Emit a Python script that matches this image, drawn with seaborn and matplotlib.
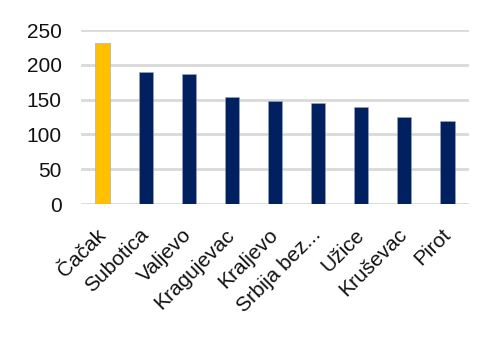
import matplotlib
matplotlib.use("Agg")
import matplotlib.pyplot as plt
import seaborn as sns
import pandas as pd

cities = ["Čačak", "Subotica", "Valjevo", "Kragujevac", "Kraljevo",
          "Srbija bez...", "Užice", "Kruševac", "Pirot"]
values = [231, 190, 187, 154, 148.5, 144.5, 139, 125.5, 120]
colors = ["#FFC000"] + ["#002060"] * 8
yticks = [0, 50, 100, 150, 200, 250]

sns.set_theme(style="white")
plt.rcParams['font.family'] = ['Liberation Sans', 'DejaVu Sans']

df = pd.DataFrame({"city": cities, "value": values})
fig = plt.figure(figsize=(5, 3.43), dpi=100)
ax = fig.add_axes([0.162, 0.405, 0.776, 0.5075])
sns.barplot(data=df, x="city", y="value", hue="city", palette=colors,
            legend=False, width=0.33, ax=ax, saturation=1,
            edgecolor="#9aa6c4", linewidth=0.4)
ax.set_ylim(0, 250)
ax.set_xlim(-0.5, 8.5)
ax.set_yticks(yticks)
ax.set_yticklabels([str(v) for v in yticks], fontsize=15, color="#111111")
ax.grid(axis="y", color="#d9d9d9", linewidth=2)
ax.set_axisbelow(True)
for s in ax.spines.values():
    s.set_visible(False)
ax.set_xlabel("")
ax.set_ylabel("")
ax.tick_params(axis="y", length=0, pad=14)
ax.tick_params(axis="x", length=0, pad=20)
ax.set_xticks(range(len(cities)))
ax.set_xticklabels(cities, rotation=45, ha="right", va="center",
                   rotation_mode="anchor", fontsize=15, color="#111111")
fig.savefig("out.png", dpi=100)
